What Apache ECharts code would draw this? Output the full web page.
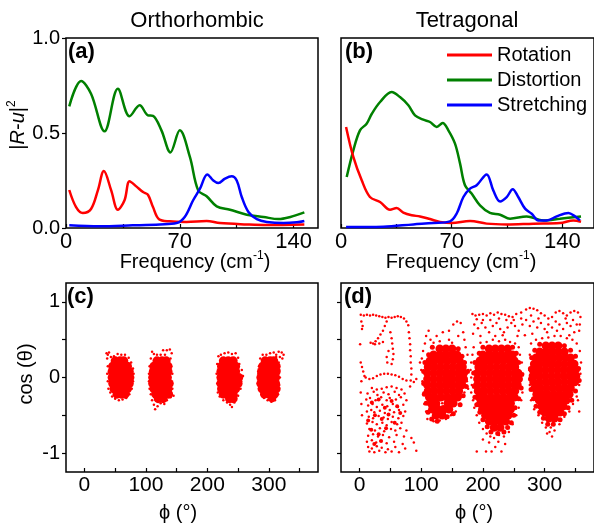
<!DOCTYPE html>
<html><head><meta charset="utf-8">
<script src="https://cdn.jsdelivr.net/npm/echarts@6/dist/echarts.min.js"></script>
<style>html,body{margin:0;padding:0;background:#fff}#c{width:594px;height:523px}</style>
</head><body><div id="c"></div>
<script>
// ---------- tick values ----------
const freqTicks = [0, 35, 70, 105, 140];
const freqLabels = [0, 70, 140];
const ampLabels = [0, 0.5, 1];
const phiTicks = [0, 50, 100, 150, 200, 250, 300, 350];
const phiLabels = [0, 100, 200, 300];
const cosTicks = [-1, -0.5, 0, 0.5, 1];
const cosLabels = [-1, 0, 1];
const seriesNames = ['Rotation', 'Distortion', 'Stretching'];

// ---------- (a) Orthorhombic spectra [freq, |R-u|^2] ----------
const orthoDistortion = [[2,0.64],[9.3,0.774],[15.4,0.707],[23.7,0.509],[31.9,0.733],[39.1,0.588],[45.3,0.646],[50.4,0.593],[53.5,0.59],[58.7,0.514],[64.2,0.398],[70,0.514],[76.2,0.374],[81.3,0.198],[86.5,0.167],[92.7,0.114],[100.9,0.096],[111.2,0.07],[121.5,0.058],[130.7,0.047],[138,0.058],[146.6,0.082]];
const orthoRotation = [[2,0.2],[6.2,0.11],[10.3,0.079],[15.4,0.1],[19.6,0.198],[23.3,0.3],[27.8,0.198],[31.9,0.096],[36,0.146],[39.1,0.246],[43.2,0.219],[47.4,0.189],[50.4,0.175],[53.5,0.11],[57.2,0.046],[63.8,0.035],[74.1,0.032],[86.5,0.037],[94.7,0.026],[111.2,0.019],[123.5,0.016],[146.6,0.019]];
const orthoStretching = [[2,0.014],[20.6,0.009],[41,0.014],[57.7,0.019],[68,0.026],[73,0.058],[78.2,0.146],[82.4,0.207],[86.9,0.282],[90.6,0.25],[93.7,0.237],[97.8,0.26],[101.9,0.272],[105,0.25],[108.1,0.163],[112.2,0.084],[117.4,0.047],[123.5,0.032],[133.8,0.026],[142,0.03],[146.6,0.037]];

// ---------- (b) Tetragonal spectra ----------
const tetraDistortion = [[3.6,0.268],[7.8,0.409],[12,0.514],[16.2,0.549],[19.4,0.6],[24.7,0.663],[32,0.716],[37.3,0.689],[42.6,0.646],[46.8,0.593],[52.1,0.57],[56.3,0.558],[60.5,0.532],[64.3,0.553],[67.9,0.514],[72.1,0.444],[75.3,0.339],[78.4,0.225],[82.6,0.181],[87.9,0.119],[94.2,0.079],[100.6,0.07],[106.9,0.049],[117.4,0.061],[128,0.04],[138.5,0.049],[151.8,0.061]];
const tetraRotation = [[3.2,0.532],[7.8,0.374],[13.1,0.251],[18.3,0.163],[24.7,0.137],[31,0.096],[35.2,0.105],[39.4,0.081],[44.7,0.067],[50,0.061],[56.3,0.047],[62.6,0.032],[70,0.026],[81.6,0.037],[92.1,0.023],[104.8,0.019],[121.6,0.023],[138.5,0.026],[146.9,0.04],[151.8,0.033]];
const tetraStretching = [[3.2,0.005],[26.8,0.007],[45.7,0.019],[58.4,0.026],[68.9,0.035],[73.1,0.075],[77.4,0.163],[81.6,0.207],[85.8,0.225],[92.1,0.282],[96.3,0.198],[100.6,0.14],[104.8,0.163],[108.6,0.204],[112.1,0.163],[116.4,0.102],[120.6,0.075],[124.8,0.04],[130.1,0.04],[136.4,0.061],[143.8,0.079],[148,0.061],[151.1,0.04]];

// ---------- (c) Orthorhombic [phi, cos(theta)] ----------
const orthoCore = [
 [50,0.22],[58,0.22],[64,0.22],[46,0.15],[54,0.15],[62,0.15],[70,0.15],[45,0.08],[53,0.08],[61,0.08],[69,0.08],[73,0.08],[45,0],[53,0],[61,0],[69,0],[74,0],[46,-0.08],[54,-0.08],[62,-0.08],[70,-0.08],[73,-0.08],[48,-0.15],[56,-0.15],[64,-0.15],[70,-0.15],[53,-0.22],[60,-0.22],[66,-0.22],
 [118,0.22],[126,0.22],[133,0.22],[113,0.15],[121,0.15],[129,0.15],[136,0.15],[112,0.08],[120,0.08],[128,0.08],[136,0.08],[111,0],[119,0],[127,0],[135,0],[111,-0.08],[119,-0.08],[127,-0.08],[135,-0.08],[138,-0.08],[113,-0.15],[121,-0.15],[129,-0.15],[136,-0.15],[116,-0.22],[124,-0.22],[132,-0.22],[137,-0.22],[120,-0.28],[128,-0.28],
 [226,0.22],[234,0.22],[242,0.22],[223,0.15],[231,0.15],[239,0.15],[246,0.15],[222,0.08],[230,0.08],[238,0.08],[246,0.08],[222,0],[230,0],[238,0],[246,0],[251,0],[222,-0.08],[230,-0.08],[238,-0.08],[246,-0.08],[250,-0.08],[223,-0.15],[231,-0.15],[239,-0.15],[246,-0.15],[226,-0.22],[234,-0.22],[242,-0.22],[236,-0.28],[242,-0.28],
 [294,0.22],[302,0.22],[308,0.22],[290,0.15],[298,0.15],[306,0.15],[312,0.15],[288,0.08],[296,0.08],[304,0.08],[312,0.08],[287,0],[295,0],[303,0],[311,0],[287,-0.08],[295,-0.08],[303,-0.08],[311,-0.08],[289,-0.15],[297,-0.15],[305,-0.15],[312,-0.15],[293,-0.22],[301,-0.22],[309,-0.22],[305,-0.27]
];
const orthoDots = [
 [36,0.32],[37,0.25],[38,0.15],[37,0.05],[38,-0.05],[39,-0.15],[42,-0.2],[45,-0.25],[50,-0.28],[56,-0.3],[62,-0.29],[68,-0.27],[73,-0.22],[77,-0.15],[79,-0.05],[80,0.05],[79,0.12],[76,0.2],[72,0.26],[66,0.3],[60,0.3],[54,0.31],[48,0.28],[43,0.27],[40,0.33],[38,0.3],
 [108,0.25],[106,0.15],[105,0.05],[105,-0.05],[106,-0.15],[108,-0.22],[110,-0.3],[113,-0.36],[115,-0.42],[119,-0.38],[124,-0.34],[130,-0.35],[134,-0.3],[140,-0.26],[145,-0.24],[143,-0.15],[141,-0.05],[143,0.05],[141,0.15],[140,0.25],[142,0.32],[139,0.37],[134,0.36],[131,0.3],[128,0.36],[124,0.3],[118,0.3],[113,0.31],[110,0.34],
 [218,0.28],[216,0.18],[215,0.05],[216,-0.08],[217,-0.2],[220,-0.25],[226,-0.3],[232,-0.33],[237,-0.36],[240,-0.39],[244,-0.33],[250,-0.24],[254,-0.15],[255,-0.05],[258,0.02],[256,0.1],[252,0.18],[250,0.26],[246,0.32],[240,0.31],[234,0.33],[228,0.32],[222,0.3],
 [286,0.25],[284,0.15],[283,0.05],[282,-0.08],[284,-0.15],[288,-0.22],[292,-0.27],[298,-0.3],[304,-0.32],[310,-0.3],[315,-0.22],[317,-0.1],[318,0],[317,0.1],[316,0.2],[312,0.27],[308,0.33],[312,0.3],[316,0.34],[321,0.33],[324,0.3],[322,0.25],[318,0.27],[302,0.32],[296,0.3],[290,0.3]
];

// ---------- (d) Tetragonal [phi, cos(theta)] ----------
const tetraCore = [
 [130,0.38],[140,0.38],[150,0.38],
 [120,0.3],[130,0.3],[140,0.3],[150,0.3],[158,0.3],
 [114,0.22],[122,0.22],[132,0.22],[142,0.22],[152,0.22],[162,0.22],
 [111,0.14],[121,0.14],[131,0.14],[141,0.14],[151,0.14],[161,0.14],[167,0.14],
 [110,0.06],[120,0.06],[130,0.06],[140,0.06],[150,0.06],[160,0.06],[169,0.06],
 [110,-0.02],[120,-0.02],[130,-0.02],[140,-0.02],[150,-0.02],[160,-0.02],[169,-0.02],
 [110,-0.1],[120,-0.1],[130,-0.1],[140,-0.1],[150,-0.1],[160,-0.1],[166,-0.1],
 [111,-0.18],[121,-0.18],[131,-0.18],[141,-0.18],[151,-0.18],[161,-0.18],
 [113,-0.26],[122,-0.26],[132,-0.26],[142,-0.26],[152,-0.26],[159,-0.26],
 [116,-0.34],[124,-0.34],[143,-0.34],[152,-0.34],
 [118,-0.42],[126,-0.42],[136,-0.42],[145,-0.42],
 [124,-0.5],[134,-0.5],
 [210,0.38],[220,0.38],[230,0.38],[240,0.38],
 [200,0.3],[210,0.3],[220,0.3],[230,0.3],[240,0.3],[248,0.3],
 [195,0.22],[204,0.22],[213,0.22],[223,0.22],[233,0.22],[243,0.22],[251,0.22],
 [193,0.14],[202,0.14],[212,0.14],[222,0.14],[232,0.14],[242,0.14],[252,0.14],
 [191,0.06],[201,0.06],[211,0.06],[221,0.06],[231,0.06],[241,0.06],[251,0.06],[257,0.06],
 [191,-0.02],[201,-0.02],[211,-0.02],[221,-0.02],[231,-0.02],[241,-0.02],[251,-0.02],[258,-0.02],
 [191,-0.1],[201,-0.1],[211,-0.1],[221,-0.1],[231,-0.1],[241,-0.1],[251,-0.1],[256,-0.1],
 [192,-0.18],[202,-0.18],[212,-0.18],[222,-0.18],[232,-0.18],[242,-0.18],[252,-0.18],
 [194,-0.26],[203,-0.26],[213,-0.26],[223,-0.26],[233,-0.26],[243,-0.26],[251,-0.26],
 [196,-0.34],[205,-0.34],[215,-0.34],[225,-0.34],[235,-0.34],[245,-0.34],
 [199,-0.42],[208,-0.42],[217,-0.42],[227,-0.42],[237,-0.42],[245,-0.42],
 [204,-0.5],[213,-0.5],[222,-0.5],[232,-0.5],[241,-0.5],
 [210,-0.58],[219,-0.58],[228,-0.58],[237,-0.58],
 [218,-0.66],[228,-0.66],
 [302,0.42],[312,0.42],[322,0.42],
 [292,0.34],[302,0.34],[312,0.34],[322,0.34],[332,0.34],
 [286,0.26],[295,0.26],[304,0.26],[314,0.26],[324,0.26],[334,0.26],[342,0.26],
 [283,0.18],[292,0.18],[302,0.18],[312,0.18],[322,0.18],[332,0.18],[342,0.18],[348,0.18],
 [281,0.1],[291,0.1],[301,0.1],[311,0.1],[321,0.1],[331,0.1],[341,0.1],[350,0.1],
 [281,0.02],[291,0.02],[301,0.02],[311,0.02],[321,0.02],[331,0.02],[341,0.02],[351,0.02],
 [282,-0.06],[292,-0.06],[302,-0.06],[312,-0.06],[322,-0.06],[332,-0.06],[342,-0.06],[349,-0.06],
 [284,-0.14],[293,-0.14],[303,-0.14],[313,-0.14],[323,-0.14],[333,-0.14],[342,-0.14],
 [287,-0.22],[296,-0.22],[305,-0.22],[315,-0.22],[325,-0.22],[335,-0.22],[340,-0.22],
 [291,-0.3],[299,-0.3],[308,-0.3],[318,-0.3],[328,-0.3],[335,-0.3],
 [295,-0.38],[303,-0.38],[312,-0.38],[321,-0.38],[330,-0.38],
 [300,-0.46],[309,-0.46],[318,-0.46],[325,-0.46],
 [307,-0.54],[316,-0.54]
];
const tetraMid = [
 [118,0.4],[160,0.38],[112,0.3],[166,0.28],[106,0.2],[170,0.2],[104,0.08],[175,0.08],[104,-0.08],[173,-0.12],[105,-0.22],[168,-0.24],[108,-0.34],[163,-0.36],[111,-0.46],[152,-0.48],[117,-0.55],[142,-0.52],[126,-0.58],
 [200,0.4],[248,0.4],[194,0.32],[254,0.32],[187,0.2],[258,0.2],[185,0.06],[263,0.04],[186,-0.12],[262,-0.14],[187,-0.26],[258,-0.28],[190,-0.36],[252,-0.4],[195,-0.46],[250,-0.5],[200,-0.56],[246,-0.6],[207,-0.65],[240,-0.66],[213,-0.72],[234,-0.72],[224,-0.74],
 [292,0.44],[332,0.42],[284,0.36],[342,0.36],[279,0.26],[350,0.28],[277,0.12],[355,0.12],[277,-0.02],[356,-0.04],[278,-0.16],[350,-0.18],[282,-0.28],[344,-0.3],[286,-0.38],[338,-0.4],[292,-0.46],[332,-0.48],[298,-0.54],[325,-0.56],[305,-0.62],[314,-0.62]
];
const tetraLeftCore = [[20,-0.33],[31,-0.29],[41,-0.4],[52,-0.31],[61,-0.38],[25,-0.5],[36,-0.55],[47,-0.49],[57,-0.6],[19,-0.69],[31,-0.75],[43,-0.67],[24,-0.88],[35,-0.84],[66,-0.47],[14,-0.57]];
const tetraDots = [
 [2,0.83],[7,0.82],[12,0.83],[17,0.82],[22,0.83],[27,0.82],[32,0.81],[37,0.8],[42,0.79],[47,0.8],[52,0.79],[57,0.8],[62,0.81],[67,0.8],[72,0.78],[76,0.74],[79,0.69],
 [3,0.74],[5,0.68],[4,0.64],[44,0.74],[41,0.68],[38,0.62],[34,0.57],[30,0.52],[26,0.48],[22,0.45],[18,0.46],[25,0.44],[32,0.45],[38,0.47],[1,0.44],
 [50,0.6],[52,0.52],[53,0.45],[54,0.38],[55,0.31],[54,0.24],[52,0.18],[47,0.35],[44,0.27],[45,0.2],
 [80,0.6],[81,0.52],[82,0.44],[82,0.36],[83,0.28],[83,0.2],[84,0.12],[84,0.04],[83,-0.04],[82,-0.12],
 [2,0.2],[4,0.14],[6,0.08],[8,0.02],[3,-0.05],[2,-0.2],[3,-0.35],[4,-0.5],
 [10,0],[16,-0.02],[22,-0.01],[28,0.02],[34,0.04],[40,0.05],[46,0.05],[52,0.04],[58,0.03],[64,0.01],[70,-0.02],[76,-0.04],[88,-0.06],[92,-0.02],
 [20,-0.14],[28,-0.16],[36,-0.15],[44,-0.13],[52,-0.12],[60,-0.14],[68,-0.16],
 [13,-0.21],[23,-0.19],[29,-0.23],[39,-0.2],[47,-0.22],[57,-0.19],[64,-0.23],[73,-0.21],
 [11,-0.29],[17,-0.27],[26,-0.3],[35,-0.26],[44,-0.3],[49,-0.27],[59,-0.29],[67,-0.26],[76,-0.3],
 [14,-0.37],[21,-0.35],[28,-0.39],[37,-0.36],[45,-0.38],[54,-0.35],[62,-0.39],[71,-0.36],
 [12,-0.45],[19,-0.43],[24,-0.46],[33,-0.44],[41,-0.47],[49,-0.43],[56,-0.46],[64,-0.43],[74,-0.45],
 [15,-0.52],[22,-0.54],[31,-0.51],[39,-0.53],[46,-0.55],[54,-0.52],[63,-0.54],[71,-0.51],
 [12,-0.61],[21,-0.59],[28,-0.62],[37,-0.6],[44,-0.63],[52,-0.59],[61,-0.62],[68,-0.6],
 [16,-0.68],[25,-0.7],[33,-0.67],[40,-0.71],[51,-0.68],[58,-0.7],[66,-0.67],[76,-0.7],
 [14,-0.77],[22,-0.75],[30,-0.78],[38,-0.76],[48,-0.79],[60,-0.76],[72,-0.78],[84,-0.8],
 [12,-0.85],[20,-0.83],[27,-0.86],[34,-0.84],[44,-0.87],[56,-0.85],[70,-0.88],[88,-0.86],
 [14,-0.92],[20,-0.94],[28,-0.91],[36,-0.93],[46,-0.95],[58,-0.92],[74,-0.94],[92,-0.97],
 [16,-0.98],[24,-0.99],[32,-0.97],[42,-0.99],[52,-0.98],[64,-0.99],
 [115,0.5],[125,0.55],[135,0.6],[145,0.62],[152,0.7],[158,0.74],[164,0.72],[168,0.6],[170,0.5],[106,0.45],[103,0.35],[101,0.25],[100,0.1],[102,-0.05],[104,-0.2],[105,-0.35],[108,-0.45],[110,-0.55],[120,-0.58],[130,-0.57],[140,-0.55],[148,-0.5],[156,-0.45],[164,-0.35],[170,-0.2],[174,-0.05],[176,0.1],[175,0.3],[172,0.4],[108,0.55],[112,0.62],[98,0.2],[160,0.55],[145,0.5],[130,0.48],[134,-0.34],[129,-0.38],[120,0.46],[150,0.46],
 [185,0.4],[183,0.3],[181,0.2],[180,0.1],[181,0],[182,-0.1],[181,-0.2],[184,-0.3],[186,-0.4],[190,-0.5],[194,-0.6],[200,-0.68],[206,-0.74],[212,-0.78],[218,-0.8],[226,-0.76],[234,-0.78],[242,-0.72],[248,-0.62],[254,-0.5],[258,-0.4],[262,-0.3],[264,-0.2],[265,0.05],[263,0.2],[260,0.3],[258,0.4],[252,0.45],[244,0.47],[236,0.5],[226,0.48],[216,0.5],[206,0.47],[196,0.46],[200,-0.82],[210,-0.86],[220,-0.92],[205,-0.98],[214,-0.98],[230,-0.98],[190,-0.98],[172,0.2],[170,0.1],[168,-0.05],[176,-0.15],[225,-0.85],[236,-0.88],
 [278,0.45],[276,0.3],[275,0.1],[276,-0.1],[278,-0.3],[283,-0.42],[290,-0.5],[296,-0.6],[302,-0.66],[308,-0.72],[312,-0.78],[316,-0.7],[324,-0.62],[332,-0.52],[340,-0.45],[346,-0.35],[352,-0.25],[356,-0.1],[358,0.05],[359,0.2],[357,0.35],[352,0.45],[345,0.5],[336,0.52],[326,0.55],[316,0.55],[306,0.53],[296,0.52],[286,0.5],[356,-0.45],[354,-0.3],[304,-0.74],[310,-0.66],
 [183,0.84],[188,0.82],[194,0.83],[200,0.84],[206,0.82],[212,0.85],[218,0.83],[224,0.86],[230,0.84],[236,0.83],[242,0.81],[248,0.8],[254,0.84],[262,0.86],[270,0.9],[276,0.92],[282,0.91],[288,0.89],[294,0.85],[300,0.82],[306,0.78],[312,0.8],[318,0.86],[324,0.88],[330,0.85],[336,0.82],[342,0.86],[348,0.88],[354,0.86],[358,0.8],[357,0.7],[356,0.62],
 [186,0.7],[192,0.65],[198,0.72],[204,0.66],[210,0.6],[216,0.68],[222,0.72],[228,0.64],[234,0.6],[240,0.66],[246,0.72],[252,0.68],[258,0.62],[264,0.7],[270,0.76],[276,0.68],[282,0.74],[288,0.66],[294,0.72],[300,0.64],[306,0.7],[312,0.66],[318,0.74],[324,0.7],[330,0.64],[336,0.72],[342,0.68],[348,0.6],
 [220,0.55],[232,0.56],[268,0.56],[280,0.58],[304,0.6],[340,0.56],[184,0.58],[196,0.55],[256,0.55],[290,0.78],[278,0.82],[262,0.78],[250,0.76],[238,0.76],[226,0.78],[212,0.76],[200,0.76],[190,0.77],[320,0.62],[334,0.78],[346,0.76],[352,0.7]
];

// ---------- chart ----------
const FONT = '"Liberation Sans", Arial, sans-serif';
const RED = '#ff0000', GREEN = '#008000', BLUE = '#0000ff';
const chart = echarts.init(document.getElementById('c'));

const grids = [
  {left: 66, top: 38, width: 252, height: 190},
  {left: 341, top: 38, width: 254, height: 190},
  {left: 66, top: 283, width: 252, height: 189},
  {left: 341, top: 283, width: 254, height: 189}
].map(g => Object.assign(g, {show: true, borderColor: '#000', borderWidth: 1.5, containLabel: false}));

function xAx(gi, min, max, ticks, labels, fs) {
  return {
    type: 'value', gridIndex: gi, min: min, max: max, position: 'bottom',
    axisLine: {show: false, onZero: false}, splitLine: {show: false},
    axisTick: {show: true, inside: true, length: 4, customValues: ticks, lineStyle: {color: '#000', width: 1.2}},
    axisLabel: {show: true, customValues: labels, margin: 3, fontSize: fs, fontFamily: FONT, color: '#000'}
  };
}
function yAx(gi, min, max, ticks, labels, showLabels, fmt) {
  return {
    type: 'value', gridIndex: gi, min: min, max: max, position: 'left',
    axisLine: {show: false, onZero: false}, splitLine: {show: false},
    axisTick: {show: ticks.length > 0, inside: false, length: 4, customValues: ticks, lineStyle: {color: '#000', width: 1.2}},
    axisLabel: {show: showLabels, customValues: labels, margin: 6, fontSize: 20, fontFamily: FONT, color: '#000', formatter: fmt}
  };
}

const lineSeries = (name, data, color, gi) => ({
  type: 'line', name: name, data: data, xAxisIndex: gi, yAxisIndex: gi,
  smooth: 0.35, symbol: 'none', lineStyle: {color: color, width: 2.5}, itemStyle: {color: color}, z: 3
});
const scat = (data, gi, size) => ({
  type: 'scatter', data: data, xAxisIndex: gi, yAxisIndex: gi,
  symbol: 'circle', symbolSize: size, itemStyle: {color: RED, opacity: 1}, silent: true
});

const option = {
  animation: false,
  backgroundColor: '#fff',
  grid: grids,
  xAxis: [
    xAx(0, 0, 155, freqTicks, freqLabels, 22),
    xAx(1, 0, 160, freqTicks, freqLabels, 22),
    xAx(2, -30, 380, phiTicks, phiLabels, 21),
    xAx(3, -30, 380, phiTicks, phiLabels, 21)
  ],
  yAxis: [
    yAx(0, 0, 1, ampLabels, ampLabels, true, v => Number(v).toFixed(1)),
    yAx(1, 0, 1, [], [], false),
    yAx(2, -1.25, 1.25, cosTicks, cosLabels, true, v => String(v)),
    yAx(3, -1.25, 1.25, cosTicks, [], false)
  ],
  legend: {
    data: seriesNames, orient: 'vertical', left: 447, top: 45, padding: 0,
    itemWidth: 45, itemHeight: 3, itemGap: 5, icon: 'rect',
    textStyle: {fontSize: 20, fontFamily: FONT, color: '#000'},
    selectedMode: false
  },
  series: [
    lineSeries(seriesNames[1], orthoDistortion, GREEN, 0),
    lineSeries(seriesNames[0], orthoRotation, RED, 0),
    lineSeries(seriesNames[2], orthoStretching, BLUE, 0),
    lineSeries(seriesNames[1], tetraDistortion, GREEN, 1),
    lineSeries(seriesNames[0], tetraRotation, RED, 1),
    lineSeries(seriesNames[2], tetraStretching, BLUE, 1),
    scat(orthoCore, 2, 9),
    scat(orthoDots, 2, 2.5),
    scat(tetraCore, 3, 8.5),
    scat(tetraMid, 3, 5),
    scat(tetraLeftCore, 3, 4),
    scat(tetraDots, 3, 2.5)
  ],
  graphic: [
    {type: 'text', x: 197, y: 21, style: {text: 'Orthorhombic', fontSize: 22, fontFamily: FONT, fill: '#000', align: 'center', verticalAlign: 'middle'}},
    {type: 'text', x: 467, y: 21, style: {text: 'Tetragonal', fontSize: 22, fontFamily: FONT, fill: '#000', align: 'center', verticalAlign: 'middle'}},
    {type: 'text', x: 68, y: 52, style: {text: '(a)', fontSize: 22, fontWeight: 'bold', fontFamily: FONT, fill: '#000', align: 'left', verticalAlign: 'middle'}},
    {type: 'text', x: 345, y: 52, style: {text: '(b)', fontSize: 22, fontWeight: 'bold', fontFamily: FONT, fill: '#000', align: 'left', verticalAlign: 'middle'}},
    {type: 'text', x: 67, y: 297, style: {text: '(c)', fontSize: 22, fontWeight: 'bold', fontFamily: FONT, fill: '#000', align: 'left', verticalAlign: 'middle'}},
    {type: 'text', x: 344, y: 297, style: {text: '(d)', fontSize: 22, fontWeight: 'bold', fontFamily: FONT, fill: '#000', align: 'left', verticalAlign: 'middle'}},
    {type: 'text', x: 195, y: 262, style: {text: '{n|Frequency (cm}{s|-1}{n|)}', fontFamily: FONT, fill: '#000', align: 'center', verticalAlign: 'middle',
      rich: {n: {fontSize: 20, fontFamily: FONT, lineHeight: 24}, s: {fontSize: 12, fontFamily: FONT, lineHeight: 12, verticalAlign: 'top'}}}},
    {type: 'text', x: 461, y: 262, style: {text: '{n|Frequency (cm}{s|-1}{n|)}', fontFamily: FONT, fill: '#000', align: 'center', verticalAlign: 'middle',
      rich: {n: {fontSize: 20, fontFamily: FONT, lineHeight: 24}, s: {fontSize: 12, fontFamily: FONT, lineHeight: 12, verticalAlign: 'top'}}}},
    {type: 'text', x: 178, y: 513, style: {text: 'ϕ (°)', fontSize: 20, fontFamily: FONT, fill: '#000', align: 'center', verticalAlign: 'middle'}},
    {type: 'text', x: 474, y: 513, style: {text: 'ϕ (°)', fontSize: 20, fontFamily: FONT, fill: '#000', align: 'center', verticalAlign: 'middle'}},
    {type: 'text', x: 18, y: 125, rotation: Math.PI / 2, style: {text: '{n||}{i|R}{n|-}{i|u}{n||}{s|2}', fontFamily: FONT, fill: '#000', align: 'center', verticalAlign: 'middle',
      rich: {n: {fontSize: 20, fontFamily: FONT, lineHeight: 24}, i: {fontSize: 20, fontStyle: 'italic', fontFamily: FONT, lineHeight: 24}, s: {fontSize: 12, fontFamily: FONT, lineHeight: 12, verticalAlign: 'top'}}}},
    {type: 'text', x: 26, y: 374, rotation: Math.PI / 2, style: {text: 'cos (θ)', fontSize: 20, fontFamily: FONT, fill: '#000', align: 'center', verticalAlign: 'middle'}}
  ]
};
chart.setOption(option);
</script>
</body></html>
